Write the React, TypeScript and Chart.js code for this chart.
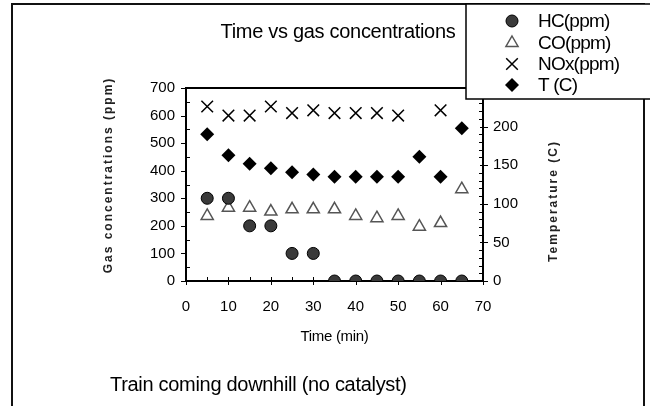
import React, { useEffect, useRef } from "react";
import { Chart, registerables } from "chart.js";

Chart.register(...registerables);

const timeMin = [5, 10, 15, 20, 25, 30, 35, 40, 45, 50, 55, 60, 65];
const hcPpm = [300, 300, 200, 200, 100, 100, 0, 0, 0, 0, 0, 0, 0];
const coPpm = [236, 266, 266, 252, 260, 260, 260, 236, 228, 236, 197, 210, 333];
const noxPpm: (number | null)[] = [633, 600, 600, 633, 609, 619, 609, 609, 609, 600, null, 619, null];
const tempC = [190, 163, 152, 146, 141, 138, 135, 135, 135, 135, 161, 135, 198];

const seriesNames = ["HC(ppm)", "CO(ppm)", "NOx(ppm)", "T (C)"];
const chartTitle = "Time vs gas concentrations";
const subTitle = "Train coming downhill (no catalyst)";
const xTitle = "Time (min)";
const yTitle = "Gas concentrations (ppm)";
const y2Title = "Temperature (C)";

const xTicks = { min: 0, max: 70, step: 10, minor: 5 };
const yTicks = { min: 0, max: 700, step: 100, minor: 50 };
const y2Ticks = { min: 0, max: 250, step: 50, minor: 10 };

const FONT = "'Liberation Sans', Arial, sans-serif";

function pts(vals: (number | null)[]) {
  const out: { x: number; y: number }[] = [];
  vals.forEach((v, i) => {
    if (v !== null) out.push({ x: timeMin[i], y: v });
  });
  return out;
}

function drawMarker(ctx: CanvasRenderingContext2D, kind: number, x: number, y: number) {
  ctx.save();
  ctx.beginPath();
  if (kind === 0) {
    ctx.arc(x, y, 6, 0, Math.PI * 2);
    ctx.fillStyle = "#3a3a3a";
    ctx.fill();
    ctx.lineWidth = 1;
    ctx.strokeStyle = "#000";
    ctx.stroke();
  } else if (kind === 1) {
    const r = 7;
    ctx.moveTo(x, y - r);
    ctx.lineTo(x + r * 0.866, y + r * 0.5);
    ctx.lineTo(x - r * 0.866, y + r * 0.5);
    ctx.closePath();
    ctx.fillStyle = "#fff";
    ctx.fill();
    ctx.lineWidth = 1.5;
    ctx.strokeStyle = "#555";
    ctx.stroke();
  } else if (kind === 2) {
    const d = 5.8;
    ctx.moveTo(x - d, y - d);
    ctx.lineTo(x + d, y + d);
    ctx.moveTo(x + d, y - d);
    ctx.lineTo(x - d, y + d);
    ctx.lineWidth = 1.5;
    ctx.strokeStyle = "#000";
    ctx.stroke();
  } else {
    const r = 7;
    ctx.moveTo(x, y - r);
    ctx.lineTo(x + r, y);
    ctx.lineTo(x, y + r);
    ctx.lineTo(x - r, y);
    ctx.closePath();
    ctx.fillStyle = "#000";
    ctx.fill();
  }
  ctx.restore();
}

const decorPlugin = {
  id: "decor",
  beforeDatasetsDraw(chart: any) {
    const { ctx, chartArea: a, scales } = chart;
    ctx.save();
    ctx.strokeStyle = "#000";
    ctx.lineWidth = 2;
    ctx.strokeRect(a.left, a.top, a.right - a.left, a.bottom - a.top);
    ctx.lineWidth = 1;
    // left axis ticks
    for (let v = yTicks.min; v <= yTicks.max; v += yTicks.minor) {
      const py = Math.round(scales.y.getPixelForValue(v)) + 0.5;
      ctx.beginPath();
      if (v % yTicks.step === 0) {
        ctx.moveTo(a.left - 5, py);
        ctx.lineTo(a.left, py);
      } else {
        ctx.moveTo(a.left, py);
        ctx.lineTo(a.left + 4, py);
      }
      ctx.stroke();
    }
    // right axis ticks
    for (let v = y2Ticks.min; v <= y2Ticks.max; v += y2Ticks.minor) {
      const py = Math.round(scales.y2.getPixelForValue(v)) + 0.5;
      ctx.beginPath();
      if (v % y2Ticks.step === 0) {
        ctx.moveTo(a.right - 3, py);
        ctx.lineTo(a.right + 5, py);
      } else {
        ctx.moveTo(a.right - 4, py);
        ctx.lineTo(a.right, py);
      }
      ctx.stroke();
    }
    // x axis ticks
    for (let v = xTicks.min; v <= xTicks.max; v += xTicks.minor) {
      const px = Math.round(scales.x.getPixelForValue(v)) + 0.5;
      ctx.beginPath();
      if (v % xTicks.step === 0) {
        ctx.moveTo(px, a.bottom - 4);
        ctx.lineTo(px, a.bottom + 4);
      } else {
        ctx.moveTo(px, a.bottom - 4);
        ctx.lineTo(px, a.bottom);
      }
      ctx.stroke();
    }
    ctx.restore();
  },
  afterDraw(chart: any) {
    const { ctx, chartArea: a } = chart;
    ctx.save();
    // outer frame
    ctx.strokeStyle = "#111";
    ctx.lineWidth = 2;
    ctx.beginPath();
    ctx.moveTo(12, 410);
    ctx.lineTo(12, 4);
    ctx.lineTo(644, 4);
    ctx.lineTo(644, 410);
    ctx.stroke();

    ctx.fillStyle = "#000";
    // title
    ctx.font = `20px ${FONT}`;
    (ctx as any).letterSpacing = "-0.3px";
    ctx.textAlign = "center";
    ctx.textBaseline = "middle";
    ctx.fillText(chartTitle, 338, 32);
    // x title
    ctx.font = `15px ${FONT}`;
    ctx.fillText(xTitle, (a.left + a.right) / 2, 337);
    // subtitle
    ctx.font = `20px ${FONT}`;
    ctx.textAlign = "left";
    ctx.textBaseline = "alphabetic";
    ctx.fillText(subTitle, 110, 391);
    (ctx as any).letterSpacing = "0px";

    // y titles
    ctx.font = `bold 12px ${FONT}`;
    (ctx as any).letterSpacing = "2px";
    ctx.fillStyle = "#222";
    ctx.textAlign = "center";
    ctx.textBaseline = "middle";
    ctx.save();
    ctx.translate(109, 175);
    ctx.rotate(-Math.PI / 2);
    ctx.fillText(yTitle, 0, 0);
    ctx.restore();
    ctx.save();
    ctx.translate(554, 201);
    ctx.rotate(-Math.PI / 2);
    ctx.fillText(y2Title, 0, 0);
    ctx.restore();
    (ctx as any).letterSpacing = "0px";

    // legend
    ctx.fillStyle = "#fff";
    ctx.fillRect(466, 4, 200, 95);
    ctx.strokeStyle = "#000";
    ctx.lineWidth = 1.5;
    ctx.strokeRect(466, 4, 200, 95);
    const rows = [21, 43, 64, 85];
    ctx.font = `19px ${FONT}`;
    (ctx as any).letterSpacing = "-0.8px";
    ctx.textAlign = "left";
    ctx.textBaseline = "middle";
    seriesNames.forEach((n, i) => {
      drawMarker(ctx, i, 512, rows[i]);
      ctx.fillStyle = "#000";
      ctx.fillText(n, 538, rows[i] + 1);
    });
    (ctx as any).letterSpacing = "0px";
    ctx.restore();
  },
};

export default function App() {
  const ref = useRef<HTMLCanvasElement | null>(null);
  useEffect(() => {
    if (!ref.current) return;
    const tickFont = { family: FONT, size: 15 };
    const chart = new Chart(ref.current, {
      type: "scatter",
      data: {
        datasets: [
          {
            label: seriesNames[0],
            data: pts(hcPpm),
            yAxisID: "y",
            pointStyle: "circle",
            pointRadius: 6,
            backgroundColor: "#3a3a3a",
            borderColor: "#000",
            borderWidth: 1,
          },
          {
            label: seriesNames[1],
            data: pts(coPpm),
            yAxisID: "y",
            pointStyle: "triangle",
            pointRadius: 7,
            backgroundColor: "#fff",
            borderColor: "#555",
            borderWidth: 1.5,
          },
          {
            label: seriesNames[2],
            data: pts(noxPpm),
            yAxisID: "y",
            pointStyle: "crossRot",
            pointRadius: 8.2,
            backgroundColor: "#000",
            borderColor: "#000",
            borderWidth: 1.5,
          },
          {
            label: seriesNames[3],
            data: pts(tempC),
            yAxisID: "y2",
            pointStyle: "rectRot",
            pointRadius: 7,
            backgroundColor: "#000",
            borderColor: "#000",
            borderWidth: 0,
          },
        ],
      },
      options: {
        animation: false,
        responsive: false,
        events: [],
        layout: { padding: { top: 88, left: 0, right: 0, bottom: 0 } },
        plugins: { legend: { display: false }, title: { display: false }, tooltip: { enabled: false } },
        elements: { point: { hoverRadius: 0 } },
        scales: {
          x: {
            type: "linear",
            min: xTicks.min,
            max: xTicks.max,
            grid: { display: false, drawTicks: false },
            border: { display: false },
            ticks: { stepSize: xTicks.step, font: tickFont, color: "#000", padding: 17 },
            afterFit: (s: any) => {
              s.height = 125;
            },
          },
          y: {
            type: "linear",
            position: "left",
            min: yTicks.min,
            max: yTicks.max,
            grid: { display: false, drawTicks: false },
            border: { display: false },
            ticks: { stepSize: yTicks.step, font: tickFont, color: "#000", padding: 11 },
            afterFit: (s: any) => {
              s.width = 186;
            },
          },
          y2: {
            type: "linear",
            position: "right",
            min: y2Ticks.min,
            max: y2Ticks.max,
            grid: { display: false, drawTicks: false },
            border: { display: false },
            ticks: {
              stepSize: y2Ticks.step,
              font: tickFont,
              color: "#000",
              padding: 10,
              callback: (v: any) => (v >= y2Ticks.max ? "" : String(v)),
            },
            afterFit: (s: any) => {
              s.width = 167;
            },
          },
        },
      } as any,
      plugins: [decorPlugin],
    });
    return () => chart.destroy();
  }, []);
  return (
    <canvas
      ref={ref}
      width={650}
      height={406}
      style={{ position: "fixed", left: 0, top: 0, width: 650, height: 406, display: "block", background: "#fff" }}
    />
  );
}
